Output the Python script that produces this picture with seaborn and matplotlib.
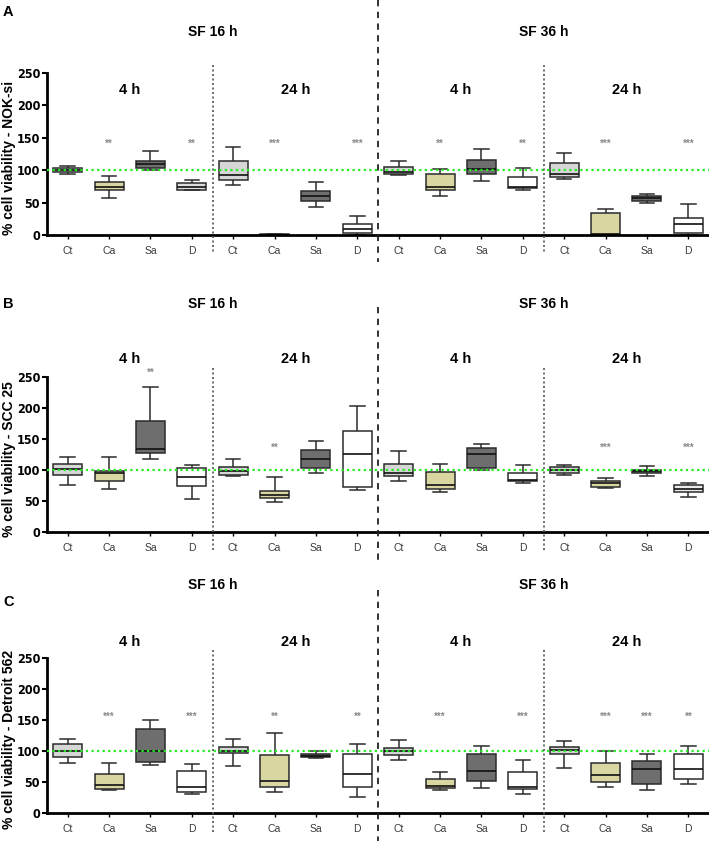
import numpy as np
import pandas as pd
import matplotlib
matplotlib.use("Agg")
import matplotlib.pyplot as plt
import seaborn as sns
from matplotlib.transforms import blended_transform_factory
from matplotlib.lines import Line2D

# ---------------- data ----------------
treatments = ["Ct", "Ca", "Sa", "D"]
exposure = ["4 h", "24 h"]
serum_free = ["SF 16 h", "SF 36 h"]
panel_letters = ["A", "B", "C"]
cell_lines = ["NOK-si", "SCC 25", "Detroit 562"]
y_tick_values = [0, 50, 100, 150, 200, 250]

# each box: [min, Q1, median, Q3, max]; order SF16-4h, SF16-24h, SF36-4h, SF36-24h x (Ct, Ca, Sa, D)
nok_si = [
    [95, 97, 100, 104, 107], [58, 69, 74, 82, 91], [101, 103, 109, 114, 129], [69, 70, 75, 80, 85],
    [78, 85, 92, 115, 135], [0, 0.5, 1, 1.5, 2], [43, 52, 60, 68, 82], [1, 3, 10, 18, 29],
    [92, 95, 97, 105, 114], [61, 69, 75, 94, 102], [83, 95, 102, 116, 133], [69, 72, 75, 90, 103],
    [86, 89, 94, 111, 126], [0, 1, 2, 35, 40], [49, 52, 57, 61, 63], [1, 4, 17, 26, 48],
]
scc_25 = [
    [76, 92, 102, 110, 121], [70, 82, 96, 99, 121], [118, 128, 135, 180, 235], [54, 74, 89, 103, 108],
    [90, 93, 99, 105, 118], [49, 55, 60, 67, 89], [95, 103, 118, 132, 148], [69, 73, 127, 164, 203],
    [83, 91, 96, 110, 131], [65, 70, 77, 97, 110], [101, 104, 126, 136, 142], [80, 82, 85, 95, 108],
    [93, 95, 100, 105, 108], [71, 73, 79, 83, 87], [90, 95, 99, 100, 107], [57, 65, 70, 76, 79],
]
detroit_562 = [
    [81, 91, 100, 112, 120], [37, 40, 45, 64, 81], [78, 82, 101, 136, 150], [31, 34, 43, 69, 80],
    [76, 98, 100, 107, 120], [35, 42, 52, 94, 130], [90, 91, 93, 96, 100], [27, 42, 64, 96, 112],
    [86, 94, 101, 106, 118], [37, 41, 44, 56, 67], [41, 52, 68, 96, 109], [31, 40, 43, 67, 86],
    [73, 96, 102, 107, 117], [43, 51, 61, 81, 100], [38, 48, 71, 84, 96], [47, 56, 71, 96, 109],
]
sig_nok_si = ["", "**", "", "**", "", "***", "", "***", "", "**", "", "**", "", "***", "", "***"]
sig_scc_25 = ["", "", "**", "", "", "**", "", "", "", "", "", "", "", "***", "", "***"]
sig_detroit_562 = ["", "***", "", "***", "", "**", "", "**", "", "***", "", "***", "", "***", "***", "**"]

panels_data = [nok_si, scc_25, detroit_562]
panels_sig = [sig_nok_si, sig_scc_25, sig_detroit_562]

# ---------------- style ----------------
W, H = 709, 841
treat_colors = {"Ct": "#d6d6d6", "Ca": "#d9d6a2", "Sa": "#6e6e6e", "D": "#ffffff"}
# a few boxes drawn with a light grey fill in the reference
fill_overrides = [{3: "#dcdcdc"}, {15: "#ececec"}, {}]

axes_px = [(72.7, 235.3), (377.3, 532.3), (658.3, 813.3)]       # y pixel of 250 and 0
sf_y = [32, 304, 585]
sub_y = [90, 359, 642]
letter_y = [12, 304, 602]
dash_span = [(0, 262), (307, 560), (590, 841)]
dot_span = [(65, 253), (368, 550), (650, 832)]
star_base = [140, 136, 156]

FONT = "Liberation Sans"
plt.rcParams["font.family"] = [FONT, "DejaVu Sans"]

fig = plt.figure(figsize=(W / 100, H / 100), dpi=100)

for p in range(3):
    top_px, bot_px = axes_px[p]
    ax = fig.add_axes([47 / W, 1 - bot_px / H, (W - 47) / W, (bot_px - top_px) / H])
    rows = []
    for i, box in enumerate(panels_data[p]):
        for v in box:
            rows.append({"slot": str(i), "treat": treatments[i % 4], "value": v})
    df = pd.DataFrame(rows)
    order = [str(i) for i in range(16)]
    palette = {}
    for i in range(16):
        palette[str(i)] = fill_overrides[p].get(i, treat_colors[treatments[i % 4]])
    sns.boxplot(data=df, x="slot", y="value", hue="slot", order=order, hue_order=order,
                palette=palette, width=0.7, whis=(0, 100), showfliers=False,
                linewidth=1.1, linecolor="#2b2b2b", legend=False, saturation=1,
                medianprops={"color": "#111111", "linewidth": 1.2}, ax=ax)

    ax.set_xlim(-0.5, 15.5)
    ax.set_ylim(0, 250)
    ax.set_yticks(y_tick_values)
    ax.set_yticklabels([str(v) for v in y_tick_values], fontsize=9, fontweight="bold",
                       family="DejaVu Sans", fontstretch="condensed")
    ax.set_xticks(range(16))
    ax.set_xticklabels(treatments * 4, fontsize=7.5, color="#3a3a3a")
    ax.tick_params(axis="x", length=3, width=1, pad=5)
    ax.tick_params(axis="y", length=3.5, width=1.5, pad=1.5)
    ax.set_xlabel("")
    ax.set_ylabel("")
    for s in ["top", "right"]:
        ax.spines[s].set_visible(False)
    ax.spines["left"].set_linewidth(2)
    ax.spines["bottom"].set_linewidth(2)
    ax.patch.set_alpha(0)

    # reference line at 100 %
    ax.axhline(100, color="#22ee22", lw=1.6, ls=(0, (1, 1.5)), zorder=3)

    # significance marks
    for i, s in enumerate(panels_sig[p]):
        if s:
            y = max(star_base[p], max(panels_data[p][i]) + 22)
            ax.text(i, y, s, ha="center", va="center", fontsize=7, color="#8a8a8a",
                    fontweight="bold")

    trans = blended_transform_factory(ax.transData, fig.transFigure)
    fy = lambda ypx: 1 - ypx / H
    # separators
    fig.add_artist(Line2D([7.5, 7.5], [fy(dash_span[p][0]), fy(dash_span[p][1])],
                          transform=trans, color="#222222", lw=1.3, ls=(0, (3.5, 3))))
    for xs in (3.5, 11.5):
        fig.add_artist(Line2D([xs, xs], [fy(dot_span[p][0]), fy(dot_span[p][1])],
                              transform=trans, color="#555555", lw=1.2, ls=(0, (1.2, 1.5))))
    # headers
    for k, sf in enumerate(serum_free):
        fig.text(3.5 + 8 * k, fy(sf_y[p]), sf, transform=trans, ha="center", va="center",
                 fontsize=10, fontweight="bold")
        for j, ex in enumerate(exposure):
            fig.text(8 * k + 4 * j + 1.5, fy(sub_y[p]), ex, transform=trans, ha="center",
                     va="center", fontsize=10.5, fontweight="bold")
    fig.text(3 / W, fy(letter_y[p]), panel_letters[p], ha="left", va="center",
             fontsize=10.5, fontweight="bold")
    fig.text(9.5 / W, 1 - ((top_px + bot_px) / 2 + 4) / H, "% cell viability - " + cell_lines[p],
             rotation=90, ha="center", va="center", fontsize=10, fontweight="bold")

fig.savefig("out.png", dpi=100)
